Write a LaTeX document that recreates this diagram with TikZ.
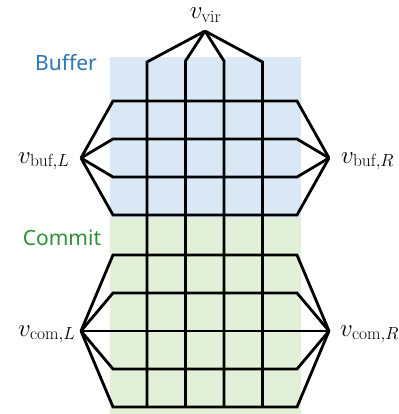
\RequirePackage{fix-cm}
\documentclass[tikz,border=0pt]{standalone}
\usepackage{fontspec}
\setsansfont{Noto Sans}
\definecolor{bufbg}{RGB}{218,232,245}
\definecolor{combg}{RGB}{226,240,217}
\definecolor{buftext}{RGB}{46,117,182}
\definecolor{comtext}{RGB}{47,143,54}
\begin{document}
\begin{tikzpicture}[x=1pt,y=-1pt,
  edge/.style={line width=2.8pt, line join=miter, black},
  vlabel/.style={inner sep=0pt, font=\fontsize{25}{29}\selectfont},
  region/.style={inner sep=0pt, font=\sffamily\fontsize{21}{25}\selectfont}]
\useasboundingbox (0,0) rectangle (398,414);
% region backgrounds
\fill[bufbg] (110,57) rectangle (301,218);
\fill[combg] (110,218) rectangle (301,414);
% hub vertices
\coordinate (vvir) at (205,31);
\coordinate (vbufL) at (81,158);
\coordinate (vbufR) at (329,158);
\coordinate (vcomL) at (81,331);
\coordinate (vcomR) at (329,331);
% buffer rows
\foreach \y in {101,139,177,215}
  \draw[edge] (vbufL) -- (113,\y) -- (297,\y) -- (vbufR);
% commit rows
\foreach \y in {255,293,369,407}
  \draw[edge] (vcomL) -- (113,\y) -- (297,\y) -- (vcomR);
\draw[edge] (vcomL) -- (vcomR);
% columns fed from the virtual vertex
\foreach \x/\t in {147/62,185.5/61,224/61,262.5/62}
  \draw[edge] (vvir) -- (\x,\t) -- (\x,407);
% labels
\node[vlabel, anchor=base] (lvir) at (205.5,18.5) {$v_{\mathrm{vir}}$};
\node[vlabel, anchor=base west] (lbufL) at (18,163) {$v_{\mathrm{buf},L}$};
\node[vlabel, anchor=base west] (lbufR) at (341,163) {$v_{\mathrm{buf},R}$};
\node[vlabel, anchor=base west] (lcomL) at (18,336) {$v_{\mathrm{com},L}$};
\node[vlabel, anchor=base west] (lcomR) at (340,336) {$v_{\mathrm{com},R}$};
\node[region, text=buftext] (tbuf) at (66,63) {Buffer};
\node[region, text=comtext] (tcom) at (62,238) {Commit};
\end{tikzpicture}
\end{document}
